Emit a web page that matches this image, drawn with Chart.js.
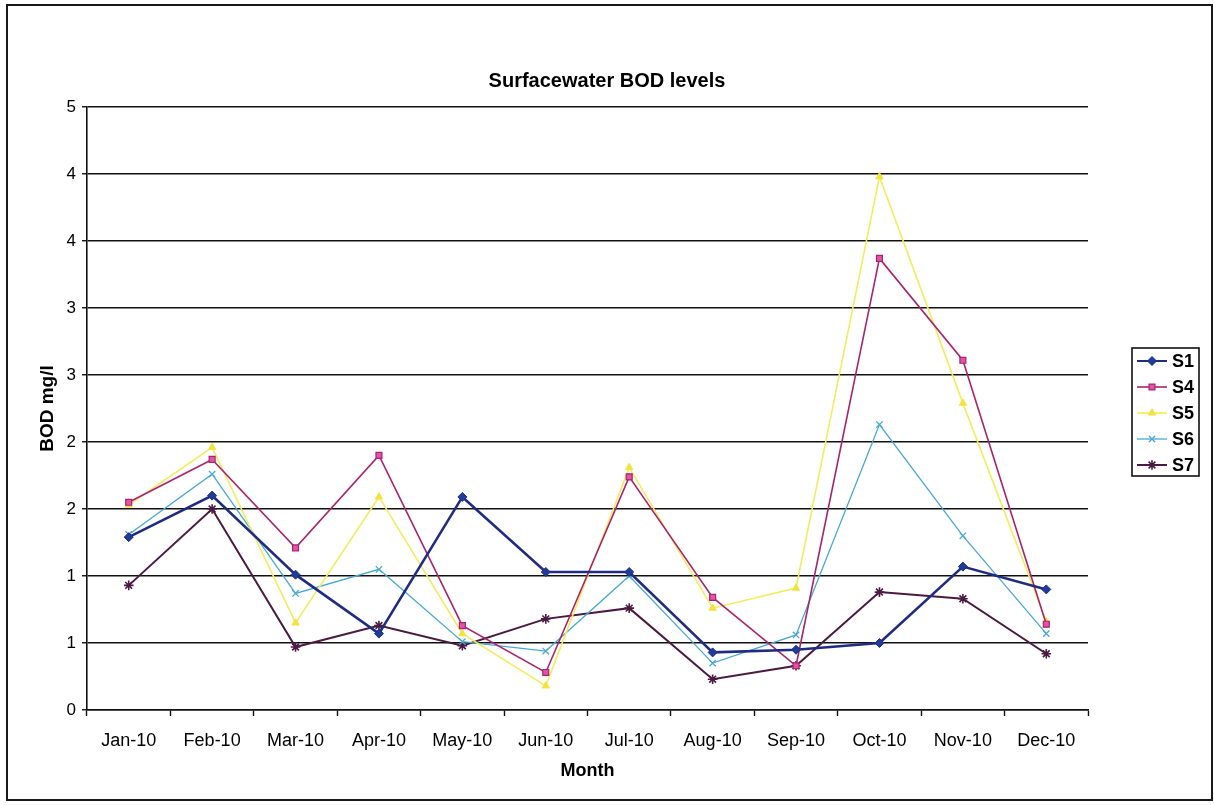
<!DOCTYPE html>
<html>
<head>
<meta charset="utf-8">
<title>Surfacewater BOD levels</title>
<script src="https://cdn.jsdelivr.net/npm/chart.js@4/dist/chart.umd.min.js"></script>
<style>
  html, body { margin: 0; padding: 0; background: #ffffff; }
  #wrap { position: relative; width: 1214px; height: 805px; }
</style>
</head>
<body>
<div id="wrap"><canvas id="bod" width="1214" height="805"></canvas></div>
<script>
// Monthly sampling dates
const months = ['Jan-10', 'Feb-10', 'Mar-10', 'Apr-10', 'May-10', 'Jun-10',
                'Jul-10', 'Aug-10', 'Sep-10', 'Oct-10', 'Nov-10', 'Dec-10'];

// BOD (mg/l) per sampling station
const s1 = [1.29, 1.60, 1.01, 0.57, 1.59, 1.03, 1.03, 0.43, 0.45, 0.50, 1.07, 0.90];
const s4 = [1.55, 1.87, 1.21, 1.90, 0.63, 0.28, 1.74, 0.84, 0.33, 3.37, 2.61, 0.64];
const s5 = [1.53, 1.96, 0.65, 1.59, 0.57, 0.18, 1.81, 0.76, 0.91, 3.98, 2.29, 0.66];
const s6 = [1.31, 1.76, 0.87, 1.05, 0.51, 0.44, 1.00, 0.35, 0.56, 2.13, 1.30, 0.57];
const s7 = [0.93, 1.50, 0.47, 0.63, 0.48, 0.68, 0.76, 0.23, 0.33, 0.88, 0.83, 0.42];

// Axis labels are shown with no decimals, so half steps round up
const yTickLabels = ['0', '1', '1', '2', '2', '3', '3', '4', '4', '5'];

const FONT = "'Liberation Sans', Arial, Helvetica, sans-serif";

// Outer frame around the whole chart
const framePlugin = {
  id: 'frame',
  afterDraw(chart) {
    const ctx = chart.ctx;
    ctx.save();
    ctx.strokeStyle = '#1a1a1a';
    ctx.lineWidth = 2;
    ctx.strokeRect(7, 5, 1205, 795);
    ctx.restore();
  }
};

// Boxed legend to the right of the plot area
const boxLegend = {
  id: 'boxLegend',
  afterDraw(chart) {
    const ctx = chart.ctx;
    const area = chart.chartArea;
    const sets = chart.data.datasets;
    const rowH = 26;
    const w = 67;
    const h = sets.length * rowH - 2;
    const left = area.right + 44;
    const top = (area.top + area.bottom) / 2 + 3.5 - h / 2;
    ctx.save();
    ctx.fillStyle = '#ffffff';
    ctx.fillRect(left, top, w, h);
    ctx.strokeStyle = '#111111';
    ctx.lineWidth = 1.6;
    ctx.strokeRect(left, top, w, h);
    ctx.font = 'bold 18px ' + FONT;
    ctx.textBaseline = 'middle';
    ctx.textAlign = 'left';
    sets.forEach((ds, i) => {
      const y = top + 13 + i * rowH;
      ctx.strokeStyle = ds.borderColor;
      ctx.lineWidth = Math.min(ds.borderWidth, 2);
      ctx.beginPath();
      ctx.moveTo(left + 5, y);
      ctx.lineTo(left + 35, y);
      ctx.stroke();
      ctx.lineWidth = ds.pointBorderWidth;
      ctx.strokeStyle = ds.pointBorderColor;
      ctx.fillStyle = ds.pointBackgroundColor;
      Chart.helpers.drawPoint(ctx, {
        pointStyle: ds.pointStyle,
        radius: ds.pointRadius,
        rotation: 0,
        borderWidth: ds.pointBorderWidth
      }, left + 20, y);
      ctx.fillStyle = '#000000';
      ctx.fillText(ds.label, left + 40, y + 1);
    });
    ctx.restore();
  }
};

new Chart(document.getElementById('bod'), {
  type: 'line',
  data: {
    labels: months,
    datasets: [
      { label: 'S1', data: s1, borderColor: '#1f2c82', borderWidth: 2.6,
        pointStyle: 'rectRot', pointRadius: 4.5, pointBackgroundColor: '#1f3c98',
        pointBorderColor: '#1f2c82', pointBorderWidth: 1 },
      { label: 'S4', data: s4, borderColor: '#a8246c', borderWidth: 1.6,
        pointStyle: 'rect', pointRadius: 4.2, pointBackgroundColor: '#e550a8',
        pointBorderColor: '#a8246c', pointBorderWidth: 1.2 },
      { label: 'S5', data: s5, borderColor: '#f3ec5c', borderWidth: 1.6,
        pointStyle: 'triangle', pointRadius: 4.2, pointBackgroundColor: '#f4e23c',
        pointBorderColor: '#f4e23c', pointBorderWidth: 1 },
      { label: 'S6', data: s6, borderColor: '#4aa8d2', borderWidth: 1.3,
        pointStyle: 'crossRot', pointRadius: 4.5, pointBackgroundColor: '#4aa8d2',
        pointBorderColor: '#4aa8d2', pointBorderWidth: 1.3 },
      { label: 'S7', data: s7, borderColor: '#4a1a42', borderWidth: 2,
        pointStyle: 'star', pointRadius: 4.8, pointBackgroundColor: '#4a1a42',
        pointBorderColor: '#4a1a42', pointBorderWidth: 1.6 }
    ]
  },
  options: {
    responsive: false,
    animation: false,
    layout: { padding: 0 },
    elements: { line: { tension: 0 } },
    plugins: {
      legend: { display: false },
      tooltip: { enabled: false },
      title: {
        display: true,
        text: 'Surfacewater BOD levels',
        color: '#000000',
        font: { family: FONT, size: 20, weight: 'bold', lineHeight: 1.2 },
        padding: { top: 69, bottom: 14 }
      }
    },
    scales: {
      x: {
        type: 'category',
        offset: true,
        grid: {
          display: true, offset: true, drawOnChartArea: false,
          drawTicks: true, tickLength: 6, tickColor: '#111111', tickWidth: 1.4
        },
        border: { display: true, color: '#111111', width: 1.6 },
        ticks: {
          color: '#000000', padding: 14, maxRotation: 0, autoSkip: false,
          font: { family: FONT, size: 18, lineHeight: 1.2 }
        },
        title: {
          display: true, text: 'Month', color: '#000000',
          font: { family: FONT, size: 18, weight: 'bold', lineHeight: 1.2 },
          padding: { top: 0, bottom: 23 }
        },
        afterFit(scale) { scale.height = 95; }
      },
      y: {
        min: 0, max: 4.5,
        grid: {
          color: '#111111', lineWidth: 1.5,
          drawTicks: true, tickLength: 5, tickColor: '#111111', tickWidth: 1.4
        },
        border: { display: true, color: '#111111', width: 1.6 },
        ticks: {
          stepSize: 0.5, padding: 6, color: '#000000',
          font: { family: FONT, size: 17, lineHeight: 1.2 },
          callback: (value, index) => yTickLabels[index]
        },
        title: {
          display: true, text: 'BOD mg/l', color: '#000000',
          font: { family: FONT, size: 19, weight: 'bold', lineHeight: 1.2 },
          padding: { top: 36, bottom: 0 }
        },
        afterFit(scale) { scale.width = 87; }
      },
      legendSpace: {
        type: 'linear', position: 'right', display: true,
        grid: { display: false, drawTicks: false },
        border: { display: false },
        ticks: { display: false },
        afterFit(scale) { scale.width = 126; }
      }
    }
  },
  plugins: [framePlugin, boxLegend]
});
</script>
</body>
</html>
